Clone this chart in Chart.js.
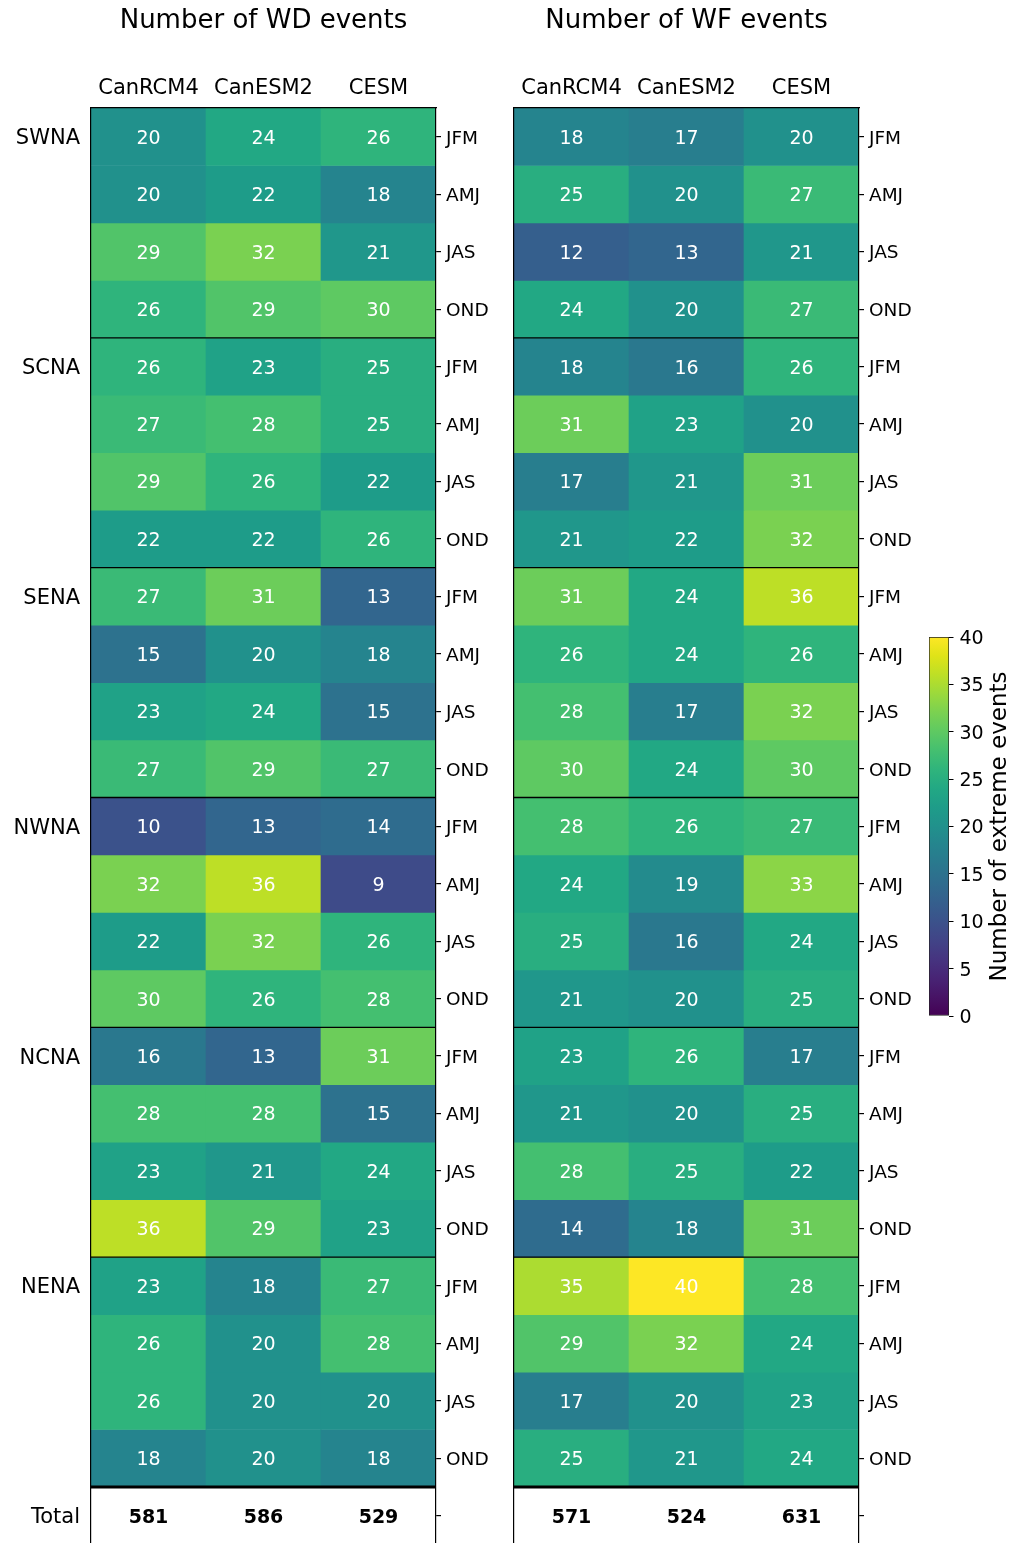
<!DOCTYPE html>
<html>
<head>
<meta charset="utf-8">
<script src="https://cdn.jsdelivr.net/npm/chart.js@4.4.1/dist/chart.umd.min.js"></script>
<style>
  html, body { margin: 0; padding: 0; background: #fff; }
  #fig { position: relative; width: 1016px; height: 1543px; overflow: hidden; background: #fff; }
  #fig canvas { position: absolute; }
</style>
</head>
<body>
<div id="fig">
  <canvas id="wd"></canvas>
  <canvas id="wf"></canvas>
  <canvas id="cb"></canvas>
</div>
<script>
// ---- data -------------------------------------------------------------
const models  = ['CanRCM4', 'CanESM2', 'CESM'];
const regions = ['SWNA', 'SCNA', 'SENA', 'NWNA', 'NCNA', 'NENA'];
const seasons = ['JFM', 'AMJ', 'JAS', 'OND'];
const totalLabel = 'Total';

// one entry per region/season row, in the order of regions x seasons
const wdCanRCM4 = [20, 20, 29, 26, 26, 27, 29, 22, 27, 15, 23, 27, 10, 32, 22, 30, 16, 28, 23, 36, 23, 26, 26, 18];
const wdCanESM2 = [24, 22, 32, 29, 23, 28, 26, 22, 31, 20, 24, 29, 13, 36, 32, 26, 13, 28, 21, 29, 18, 20, 20, 20];
const wdCESM    = [26, 18, 21, 30, 25, 25, 22, 26, 13, 18, 15, 27, 14,  9, 26, 28, 31, 15, 24, 23, 27, 28, 20, 18];

const wfCanRCM4 = [18, 25, 12, 24, 18, 31, 17, 21, 31, 26, 28, 30, 28, 24, 25, 21, 23, 21, 28, 14, 35, 29, 17, 25];
const wfCanESM2 = [17, 20, 13, 20, 16, 23, 21, 22, 24, 24, 17, 24, 26, 19, 16, 20, 26, 20, 25, 18, 40, 32, 20, 21];
const wfCESM    = [20, 27, 21, 27, 26, 20, 31, 32, 36, 26, 32, 30, 27, 33, 24, 25, 17, 25, 22, 31, 28, 24, 23, 24];

// colour scale range and colorbar ticks
const cbMin = 0;
const cbMax = 40;
const cbStep = 5;
const cbLabel = 'Number of extreme events';

// ---- colour map (viridis) -------------------------------------------
const viridisStops = [
  '#440154', '#471365', '#482475', '#463480', '#414487', '#3b528b', '#355f8d',
  '#2f6c8e', '#2a788e', '#25848e', '#21918c', '#1e9c89', '#22a884', '#2fb47c',
  '#44bf70', '#5ec962', '#7ad151', '#9bd93c', '#bddf26', '#dfe318', '#fde725'
];
const viridisRGB = viridisStops.map(h => [1, 3, 5].map(k => parseInt(h.substr(k, 2), 16)));
function viridis(t) {
  t = Math.max(0, Math.min(1, t));
  const p = t * (viridisRGB.length - 1);
  const i = Math.min(Math.floor(p), viridisRGB.length - 2);
  const f = p - i;
  const a = viridisRGB[i], b = viridisRGB[i + 1];
  const c = a.map((v, k) => Math.round(v + (b[k] - v) * f));
  return `rgb(${c[0]},${c[1]},${c[2]})`;
}
const colorFor = v => viridis((v - cbMin) / (cbMax - cbMin));

// ---- layout -----------------------------------------------------------
const FONT = 'DejaVu Sans';
const ROWS = regions.length * seasons.length;
const AREA_TOP = 108;
const ROW_H = (1487 - AREA_TOP) / ROWS;
const AREA_W = 345;
const CANVAS_H = 1600;
const TEXT_DY = 2;   // nudges canvas 'middle' baseline down to the glyph centre

Chart.defaults.font.family = FONT;
Chart.defaults.color = '#000';

function sizeCanvas(canvas, left, top, w, h) {
  canvas.width = w; canvas.height = h;
  canvas.style.left = left + 'px'; canvas.style.top = top + 'px';
  canvas.style.width = w + 'px'; canvas.style.height = h + 'px';
}

const cellText = {
  id: 'cellText',
  afterDatasetsDraw(chart, args, opts) {
    const ctx = chart.ctx;
    const ys = chart.scales.yr, xs = chart.scales.x;
    const { left, right } = chart.chartArea;
    ctx.save();
    // values inside each cell
    ctx.fillStyle = '#fff';
    ctx.font = `19px "${FONT}"`;
    ctx.textAlign = 'center';
    ctx.textBaseline = 'middle';
    chart.data.datasets.forEach((ds, i) => {
      chart.getDatasetMeta(i).data.forEach((el, j) => {
        const c = el.getCenterPoint();
        ctx.fillText(String(ds.values[j]), c.x, c.y + TEXT_DY);
      });
    });
    // region separators
    ctx.strokeStyle = '#000';
    ctx.lineWidth = 1.3;
    for (let r = seasons.length; r < ROWS; r += seasons.length) {
      const y = ys.getPixelForValue(r);
      ctx.beginPath(); ctx.moveTo(left, y); ctx.lineTo(right, y); ctx.stroke();
    }
    ctx.lineWidth = 3;
    const yt = ys.getPixelForValue(ROWS);
    ctx.beginPath(); ctx.moveTo(left, yt); ctx.lineTo(right, yt); ctx.stroke();
    // totals row
    ctx.fillStyle = '#000';
    ctx.font = `bold 19px "${FONT}"`;
    opts.totals.forEach((t, j) => {
      ctx.fillText(String(t), xs.getPixelForValue(j), ys.getPixelForValue(ROWS + 0.5) + TEXT_DY);
    });
    ctx.restore();
  }
};

function makePanel(id, canvasLeft, canvasW, areaLeftAbs, title, columns, showRegions) {
  const canvas = document.getElementById(id);
  sizeCanvas(canvas, canvasLeft, 0, canvasW, CANVAS_H);
  const areaLeft = areaLeftAbs - canvasLeft;
  const areaRight = areaLeft + AREA_W;
  const areaBottom = AREA_TOP + (ROWS + 1) * ROW_H;

  const datasets = [];
  for (let r = 0; r < ROWS; r++) {
    datasets.push({
      yAxisID: 'yr',
      data: columns.map(() => [r, r + 1]),
      values: columns.map(c => c[r]),
      backgroundColor: columns.map(c => colorFor(c[r])),
      borderWidth: 0,
      grouped: false,
      barPercentage: 1,
      categoryPercentage: 1
    });
  }
  const totals = columns.map(c => c.reduce((a, b) => a + b, 0));

  const rightTicks = [], rightLabels = [];
  for (let r = 0; r <= ROWS; r++) {
    rightTicks.push(r + 0.5);
    rightLabels.push(r < ROWS ? seasons[r % seasons.length] : '');
  }
  const leftTicks = [], leftLabels = [];
  regions.forEach((reg, k) => {
    leftTicks.push(k * seasons.length + 0.5);
    leftLabels.push(showRegions ? reg : '');
  });
  leftTicks.push(ROWS + 0.5);
  leftLabels.push(showRegions ? totalLabel : '');

  const border = { display: true, color: '#000', width: 1.2, z: 1 };

  return new Chart(canvas, {
    type: 'bar',
    data: { labels: models, datasets },
    options: {
      responsive: false,
      animation: false,
      devicePixelRatio: 1,
      events: [],
      layout: { padding: { left: 0, right: 0, top: 0, bottom: CANVAS_H - areaBottom } },
      plugins: {
        legend: { display: false },
        tooltip: { enabled: false },
        cellText: { totals }
      },
      scales: {
        x: {
          type: 'category',
          position: 'top',
          offset: true,
          grid: { display: false, drawTicks: false },
          border,
          ticks: { font: { size: 21 }, color: '#000', padding: 6.4, maxRotation: 0, autoSkip: false },
          title: { display: true, text: title, color: '#000', font: { size: 26 }, padding: { top: 5.8, bottom: 0 } },
          afterFit: s => { s.height = AREA_TOP; }
        },
        yl: {
          type: 'linear',
          position: 'left',
          min: 0, max: ROWS + 1,
          reverse: true,
          afterBuildTicks: s => { s.ticks = leftTicks.map(v => ({ value: v })); },
          ticks: { callback: (v, i) => leftLabels[i], font: { size: 21 }, color: '#000', padding: 11, labelOffset: TEXT_DY, autoSkip: false },
          grid: { display: false, drawTicks: false },
          border,
          afterFit: s => { s.width = areaLeft; }
        },
        yr: {
          type: 'linear',
          position: 'right',
          min: 0, max: ROWS + 1,
          reverse: true,
          afterBuildTicks: s => { s.ticks = rightTicks.map(v => ({ value: v })); },
          ticks: { callback: (v, i) => rightLabels[i], font: { size: 18.5 }, color: '#000', padding: 5, labelOffset: TEXT_DY, autoSkip: false },
          grid: { display: true, drawOnChartArea: false, drawTicks: true, tickLength: 5, color: '#000', lineWidth: 1.2 },
          border,
          afterFit: s => { s.width = canvasW - areaRight; }
        }
      }
    },
    plugins: [cellText]
  });
}

makePanel('wd', 0, 500, 91, 'Number of WD events', [wdCanRCM4, wdCanESM2, wdCESM], true);
makePanel('wf', 460, 460, 514, 'Number of WF events', [wfCanRCM4, wfCanESM2, wfCESM], false);

// ---- colorbar ---------------------------------------------------------
const CB_LEFT = 900, CB_TOP = 600, CB_W = 116, CB_H = 450;
const cbCanvas = document.getElementById('cb');
sizeCanvas(cbCanvas, CB_LEFT, CB_TOP, CB_W, CB_H);

const cbTitle = {
  id: 'cbTitle',
  afterDraw(chart) {
    const ctx = chart.ctx;
    const { top, bottom } = chart.chartArea;
    ctx.save();
    ctx.translate(1000 - CB_LEFT, (top + bottom) / 2);
    ctx.rotate(-Math.PI / 2);
    ctx.font = `23px "${FONT}"`;
    ctx.fillStyle = '#000';
    ctx.textAlign = 'center';
    ctx.textBaseline = 'middle';
    ctx.fillText(cbLabel, 0, 0);
    ctx.restore();
  }
};

new Chart(cbCanvas, {
  type: 'bar',
  data: {
    labels: [''],
    datasets: [{
      data: [[cbMin, cbMax]],
      backgroundColor: (c) => {
        const chart = c.chart;
        const ys = chart.scales.y;
        if (!chart.chartArea || !ys) return viridis(0.5);
        const g = chart.ctx.createLinearGradient(0, ys.getPixelForValue(cbMin), 0, ys.getPixelForValue(cbMax));
        viridisStops.forEach((h, i) => g.addColorStop(i / (viridisStops.length - 1), h));
        return g;
      },
      borderColor: '#222',
      borderWidth: 1,
      borderSkipped: false,
      barPercentage: 1,
      categoryPercentage: 1
    }]
  },
  options: {
    responsive: false,
    animation: false,
    devicePixelRatio: 1,
    events: [],
    layout: { padding: { left: 929 - CB_LEFT, right: 0, top: 637 - CB_TOP, bottom: CB_TOP + CB_H - 1016 } },
    plugins: { legend: { display: false }, tooltip: { enabled: false } },
    scales: {
      x: { display: false },
      y: {
        position: 'right',
        min: cbMin, max: cbMax,
        ticks: { stepSize: cbStep, font: { size: 19 }, color: '#000', padding: 6, labelOffset: TEXT_DY },
        grid: { display: true, drawOnChartArea: false, drawTicks: true, tickLength: 4.5, color: '#000', lineWidth: 1 },
        border: { display: false },
        afterFit: s => { s.width = CB_W - (949 - CB_LEFT); }
      }
    }
  },
  plugins: [cbTitle]
});
</script>
</body>
</html>
